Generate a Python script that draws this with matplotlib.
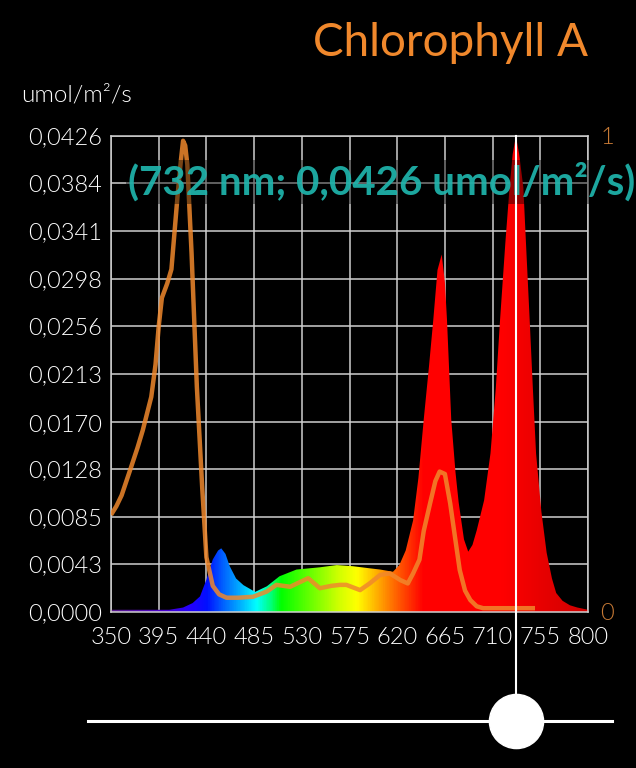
import numpy as np
import matplotlib
matplotlib.use('Agg')
import matplotlib.pyplot as plt
import matplotlib.transforms as mtransforms
from matplotlib.colors import LinearSegmentedColormap

plt.rcParams['font.family'] = ['Lato', 'DejaVu Sans']

# light spectrum, umol/m2/s per nm
spec_nm = [350, 380, 405, 418, 427, 434, 440, 446, 451, 454, 458, 462, 468, 475,
           486, 497, 509, 525, 547, 563, 578, 595, 604, 616, 622, 628, 635, 640,
           645, 650, 654, 658, 662, 665, 667, 671, 675, 678, 683, 687, 691, 695,
           702, 708, 713, 717, 722, 726, 729, 732, 735, 739, 742, 745, 748, 751,
           756, 761, 766, 770, 776, 783, 790, 800]
spec_val = [0.0002, 0.0002, 0.0002, 0.0004, 0.0008, 0.0014, 0.0029, 0.0047, 0.0055,
            0.0057, 0.0052, 0.0041, 0.0030, 0.0024, 0.0018, 0.0023, 0.0032, 0.0038,
            0.0040, 0.0042, 0.0041, 0.0039, 0.0038, 0.0036, 0.0042, 0.0055, 0.0082,
            0.0120, 0.0172, 0.0220, 0.0261, 0.0306, 0.0320, 0.0295, 0.0261, 0.0172,
            0.0125, 0.0098, 0.0065, 0.0054, 0.0060, 0.0073, 0.0100, 0.0142, 0.0200,
            0.0261, 0.0330, 0.0380, 0.0410, 0.0426, 0.0410, 0.0380, 0.0320, 0.0261,
            0.0200, 0.0142, 0.0090, 0.0053, 0.0030, 0.0017, 0.0010, 0.0006, 0.0004,
            0.0002]

# chlorophyll A absorption, relative
chl_nm = [350, 355, 360, 368, 375, 380, 388, 392, 395, 398, 403, 407, 410, 413, 416,
          418, 420, 422, 426, 431, 436, 440, 446, 452, 459, 470, 484, 497, 506, 519,
          536, 547, 558, 566, 572, 585, 594, 604, 613, 623, 630, 635, 641, 645, 651,
          656, 660, 665, 670, 675, 679, 684, 689, 695, 701, 750]
chl_val = [0.204, 0.222, 0.245, 0.298, 0.345, 0.382, 0.452, 0.52, 0.60, 0.66, 0.69,
           0.72, 0.80, 0.88, 0.95, 0.99, 0.98, 0.94, 0.754, 0.473, 0.263, 0.115,
           0.055, 0.037, 0.030, 0.030, 0.032, 0.043, 0.057, 0.053, 0.071, 0.050,
           0.055, 0.057, 0.057, 0.046, 0.060, 0.078, 0.081, 0.067, 0.060, 0.081,
           0.11, 0.17, 0.228, 0.275, 0.295, 0.29, 0.228, 0.15, 0.088, 0.045, 0.025,
           0.012, 0.008, 0.008]

x_ticks = [350, 395, 440, 485, 530, 575, 620, 665, 710, 755, 800]
y_ticks = [0.0, 0.0043, 0.0085, 0.0128, 0.0170, 0.0213, 0.0256, 0.0298, 0.0341, 0.0384, 0.0426]
y_labels = ['0,0000', '0,0043', '0,0085', '0,0128', '0,0170', '0,0213',
            '0,0256', '0,0298', '0,0341', '0,0384', '0,0426']

sel_nm = 732
sel_val = '0,0426'

# wavelength -> colour for the fill
wl_stops = [350, 400, 425, 440, 455, 470, 487, 500, 510, 540, 565, 582, 597, 612,
            628, 645, 720, 760, 800]
wl_cols = ['#5a1a8c', '#4a00d0', '#2200ff', '#0010ff', '#0060ff', '#00a8ff', '#00ffff',
           '#00ff80', '#00ff00', '#70ff00', '#d0ff00', '#ffff00', '#ffc000', '#ff8000',
           '#ff4000', '#ff0000', '#ff0000', '#e60000', '#d00000']

grid_col = '#cfcfcf'
orange = '#f0882c'
teal = '#1fb5ad'

fig = plt.figure(figsize=(6.36, 7.68), dpi=100, facecolor='black')
ax = fig.add_axes([111 / 636, 156 / 768, 477 / 636, 476 / 768])
ax.set_facecolor('black')

xmin, xmax = 350, 800
ymax = 0.0426
ax.set_xlim(xmin, xmax)
ax.set_ylim(0, ymax)

ax.set_axisbelow(True)
ax.grid(True, color=grid_col, linewidth=1.1)
for s in ax.spines.values():
    s.set_color(grid_col)
    s.set_linewidth(1.1)

ax.set_xticks(x_ticks)
ax.set_yticks(y_ticks)
ax.set_yticklabels(y_labels)
ax.tick_params(colors='white', labelsize=17, length=0)
ax.tick_params(axis='y', pad=6.5)
ax.tick_params(axis='x', pad=11)
for lab in ax.get_xticklabels() + ax.get_yticklabels():
    lab.set_fontweight(300)

# rainbow fill clipped to the spectrum shape
poly = ax.fill_between(spec_nm, 0, spec_val, color='none', lw=0)
cmap = LinearSegmentedColormap.from_list(
    'wl', [((w - xmin) / (xmax - xmin), c) for w, c in zip(wl_stops, wl_cols)])
grad = np.linspace(0, 1, 900).reshape(1, -1)
im = ax.imshow(grad, cmap=cmap, aspect='auto', extent=[xmin, xmax, 0, ymax],
               origin='lower', zorder=1)
im.set_clip_path(poly.get_paths()[0], transform=ax.transData)
ax.set_xlim(xmin, xmax)
ax.set_ylim(0, ymax)

# relative axis for chlorophyll
ax2 = ax.twinx()
ax2.set_ylim(0, 1)
ax2.set_yticks([0, 1])
ax2.set_yticklabels(['0', '1'])
ax2.tick_params(colors='#c87a35', labelsize=17, length=0, pad=9)
for lab in ax2.get_yticklabels():
    lab.set_fontweight(300)
for s in ax2.spines.values():
    s.set_visible(False)
ax2.plot(chl_nm, chl_val, color=orange, lw=3.2, alpha=0.85, zorder=2,
         solid_capstyle='butt')

ax2.text(0.036, 0.903, '(%d nm; %s umol/m²/s)' % (sel_nm, sel_val),
         transform=ax2.transAxes, color=teal, fontsize=29, fontweight='bold',
         ha='left', va='center', zorder=3, clip_on=False, alpha=0.92,
         bbox=dict(boxstyle='square,pad=0.05', fc='black', alpha=0.4, ec='none'))

# cursor + slider below the chart
trans = mtransforms.blended_transform_factory(ax2.transData, ax2.transAxes)
slider_y = (612 - 721) / 476
ax2.plot([sel_nm, sel_nm], [slider_y, 1.0], color='white', lw=1.5,
         transform=trans, clip_on=False, zorder=4)
ax2.plot([-23 / 477, 501 / 477], [slider_y, slider_y], color='white', lw=2.2,
         transform=ax2.transAxes, clip_on=False, zorder=4)
ax2.plot([sel_nm], [slider_y], 'o', color='white', ms=39, transform=trans,
         clip_on=False, zorder=5)
ax2.set_xlim(xmin, xmax)

fig.text(588 / 636, 1 - 43 / 768, 'Chlorophyll A', color=orange, fontsize=33,
         ha='right', va='center')
fig.text(21 / 636, 1 - 95 / 768, 'umol/m²/s', color='white', fontsize=17.5,
         fontweight=300, ha='left', va='center')

fig.savefig('out.png', dpi=100, facecolor='black')
